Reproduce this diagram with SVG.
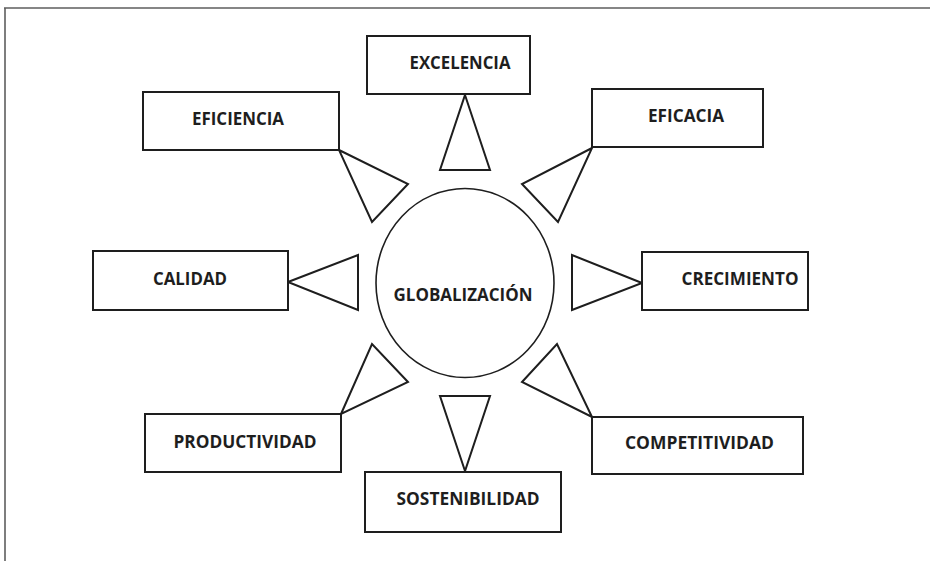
<svg xmlns="http://www.w3.org/2000/svg" width="930" height="561" viewBox="0 0 930 561">
<style>
.frame{stroke:#5e5e5e;stroke-width:1.6;fill:none}
.box{fill:#fff;stroke:#1e1e1e;stroke-width:2}
.tri{fill:#fff;stroke:#1e1e1e;stroke-width:2;stroke-linejoin:miter}
.circ{fill:#fff;stroke:#1e1e1e;stroke-width:1.6}
.lbl{font-family:"Open Sans","Liberation Sans",sans-serif;font-weight:bold;font-size:17px;fill:#1e1e1e;text-anchor:middle}
</style>
<rect width="930" height="561" fill="#fff"/>
<g id="frame">
<line class="frame" x1="4" y1="8" x2="930" y2="8"/>
<line class="frame" x1="5" y1="8" x2="5" y2="561"/>
</g>
<g id="connectors">
<polygon class="tri" points="465,95 490,170 440,170"/>
<polygon class="tri" points="339,150 408,184 372,222"/>
<polygon class="tri" points="592,148 522,184 558,222"/>
<polygon class="tri" points="288,282 358,255 358,310"/>
<polygon class="tri" points="642,283 572,255 572,310"/>
<polygon class="tri" points="341,414 372,344 408,382"/>
<polygon class="tri" points="592,417 557,344 522,382"/>
<polygon class="tri" points="465,471 440,396 490,396"/>
</g>
<g id="globalizacion">
<ellipse class="circ" cx="465" cy="283" rx="89" ry="94.5"/>
<text class="lbl" x="463" y="301" textLength="139" lengthAdjust="spacingAndGlyphs">GLOBALIZACIÓN</text>
</g>
<g id="excelencia">
<rect class="box" x="367" y="36" width="163" height="58"/>
<text class="lbl" x="460" y="68.5" textLength="101" lengthAdjust="spacingAndGlyphs">EXCELENCIA</text>
</g>
<g id="eficiencia">
<rect class="box" x="143" y="92" width="196" height="58"/>
<text class="lbl" x="238" y="125" textLength="92" lengthAdjust="spacingAndGlyphs">EFICIENCIA</text>
</g>
<g id="eficacia">
<rect class="box" x="592" y="89" width="171" height="58"/>
<text class="lbl" x="686" y="122" textLength="76" lengthAdjust="spacingAndGlyphs">EFICACIA</text>
</g>
<g id="calidad">
<rect class="box" x="93" y="251" width="195" height="59"/>
<text class="lbl" x="190" y="285" textLength="74" lengthAdjust="spacingAndGlyphs">CALIDAD</text>
</g>
<g id="crecimiento">
<rect class="box" x="642" y="252" width="166" height="58"/>
<text class="lbl" x="740" y="285" textLength="117" lengthAdjust="spacingAndGlyphs">CRECIMIENTO</text>
</g>
<g id="productividad">
<rect class="box" x="145" y="414" width="196" height="58"/>
<text class="lbl" x="245" y="447.5" textLength="143" lengthAdjust="spacingAndGlyphs">PRODUCTIVIDAD</text>
</g>
<g id="competitividad">
<rect class="box" x="592" y="417" width="211" height="57"/>
<text class="lbl" x="699.5" y="449" textLength="149" lengthAdjust="spacingAndGlyphs">COMPETITIVIDAD</text>
</g>
<g id="sostenibilidad">
<rect class="box" x="365" y="472" width="196" height="60"/>
<text class="lbl" x="468" y="505" textLength="143" lengthAdjust="spacingAndGlyphs">SOSTENIBILIDAD</text>
</g>
</svg>
